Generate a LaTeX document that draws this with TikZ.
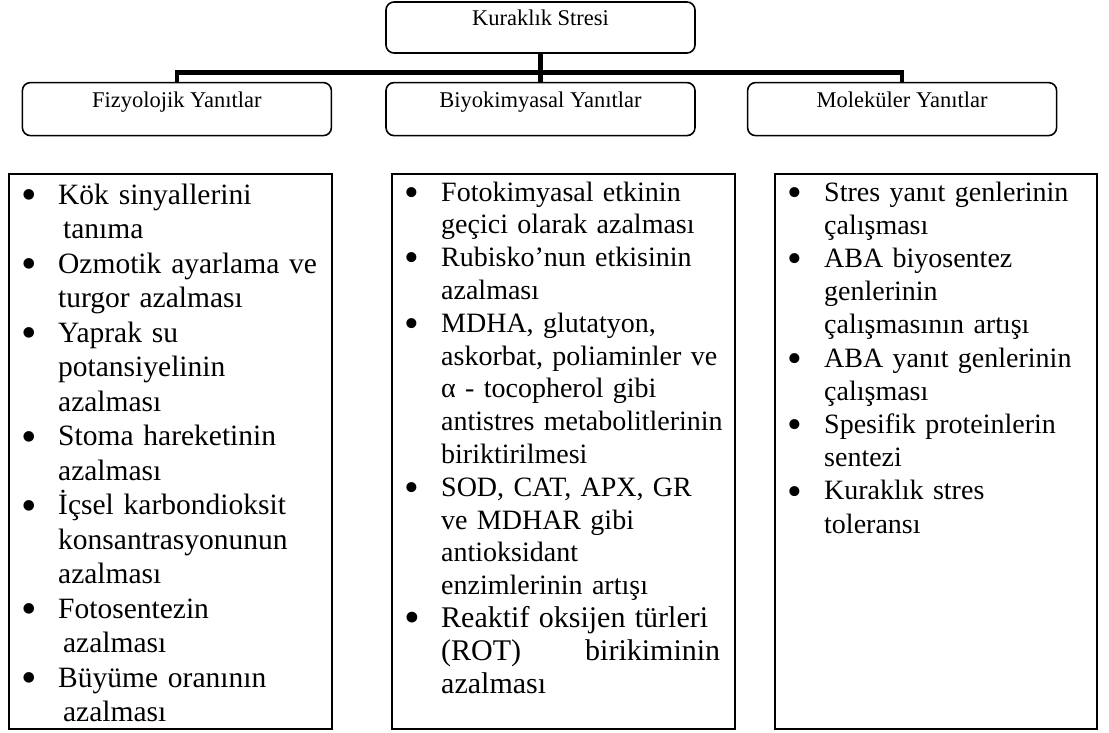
\documentclass[tikz,border=0pt]{standalone}
\usepackage{fontspec}
\setmainfont{Liberation Serif}
\usetikzlibrary{positioning}

% bullet item and continuation line
\newcommand{\madde}[1]{\hspace*{12pt}\makebox[37pt][l]{\raisebox{-0.18em}{\scalebox{1.5}{\textbullet}}}#1}
\newcommand{\devam}[1]{\hspace*{49pt}#1}

\begin{document}
\begin{tikzpicture}[
    x=1pt, y=1pt,
    baslik/.style={
        rectangle, rounded corners=8pt,
        draw=black, line width=1.6pt,
        minimum width=309pt, inner sep=0pt,
        text height=25pt, text depth=28pt,
        font=\fontsize{22.5}{27}\selectfont
    },
    liste/.style={
        rectangle, draw=black, line width=2.4pt,
        inner sep=0pt, anchor=north west, align=left
    },
    bag/.style={
        line width=4.5pt
    }
]
\useasboundingbox (0,0) rectangle (1109,-733);

% Top: drought stress
\node[baslik, text height=24pt, text depth=27pt] (kurak) at (540.5,-27.5) {Kuraklık Stresi};

% Three kinds of responses
\node[baslik, below=28pt of kurak] (biyo) {Biyokimyasal Yanıtlar};
\node[baslik, left=53pt of biyo] (fiz) {Fizyolojik Yanıtlar};
\node[baslik, right=51pt of biyo] (mol) {Moleküler Yanıtlar};

% Tree connectors
\draw[bag] (kurak) -- (biyo);
\draw[bag] (fiz.north) -- ++(0,9.5) -| (mol.north);

% Lists
\node[liste, text width=323pt, text height=30pt, text depth=525pt,
      font=\fontsize{29.5}{34.5}\selectfont] (fizliste) at (8,-173) {%
\madde{Kök sinyallerini}\\
\devam{\,tanıma}\\
\madde{Ozmotik ayarlama ve}\\
\devam{turgor azalması}\\
\madde{Yaprak su}\\
\devam{potansiyelinin}\\
\devam{azalması}\\
\madde{Stoma hareketinin}\\
\devam{azalması}\\
\madde{İçsel karbondioksit}\\
\devam{konsantrasyonunun}\\
\devam{azalması}\\
\madde{Fotosentezin}\\
\devam{\,azalması}\\
\madde{Büyüme oranının}\\
\devam{\,azalması}};

\node[liste, text width=343pt, text height=27pt, text depth=528pt,
      font=\fontsize{28}{32.8}\selectfont] (biyoliste) at (391,-173) {%
\madde{Fotokimyasal etkinin}\\
\devam{geçici olarak azalması}\\
\madde{Rubisko’nun etkisinin}\\
\devam{azalması}\\
\madde{MDHA, glutatyon,}\\
\devam{askorbat, poliaminler ve}\\
\devam{α - tocopherol gibi}\\
\devam{antistres metabolitlerinin}\\
\devam{biriktirilmesi}\\
\madde{SOD, CAT, APX, GR}\\
\devam{ve MDHAR gibi}\\
\devam{antioksidant}\\
\devam{enzimlerinin artışı}\\
{\fontsize{30}{32.8}\selectfont
\madde{\makebox[279pt][s]{Reaktif oksijen türleri}}\\
\devam{\makebox[279pt][l]{(ROT)\hfill birikiminin}}\\
\devam{azalması}}};

\node[liste, text width=322pt, text height=27pt, text depth=528pt,
      font=\fontsize{28}{33.2}\selectfont] (molliste) at (774,-173) {%
\madde{Stres yanıt genlerinin}\\
\devam{çalışması}\\
\madde{ABA biyosentez}\\
\devam{genlerinin}\\
\devam{çalışmasının artışı}\\
\madde{ABA yanıt genlerinin}\\
\devam{çalışması}\\
\madde{Spesifik proteinlerin}\\
\devam{sentezi}\\
\madde{Kuraklık stres}\\
\devam{toleransı}};

\end{tikzpicture}
\end{document}
